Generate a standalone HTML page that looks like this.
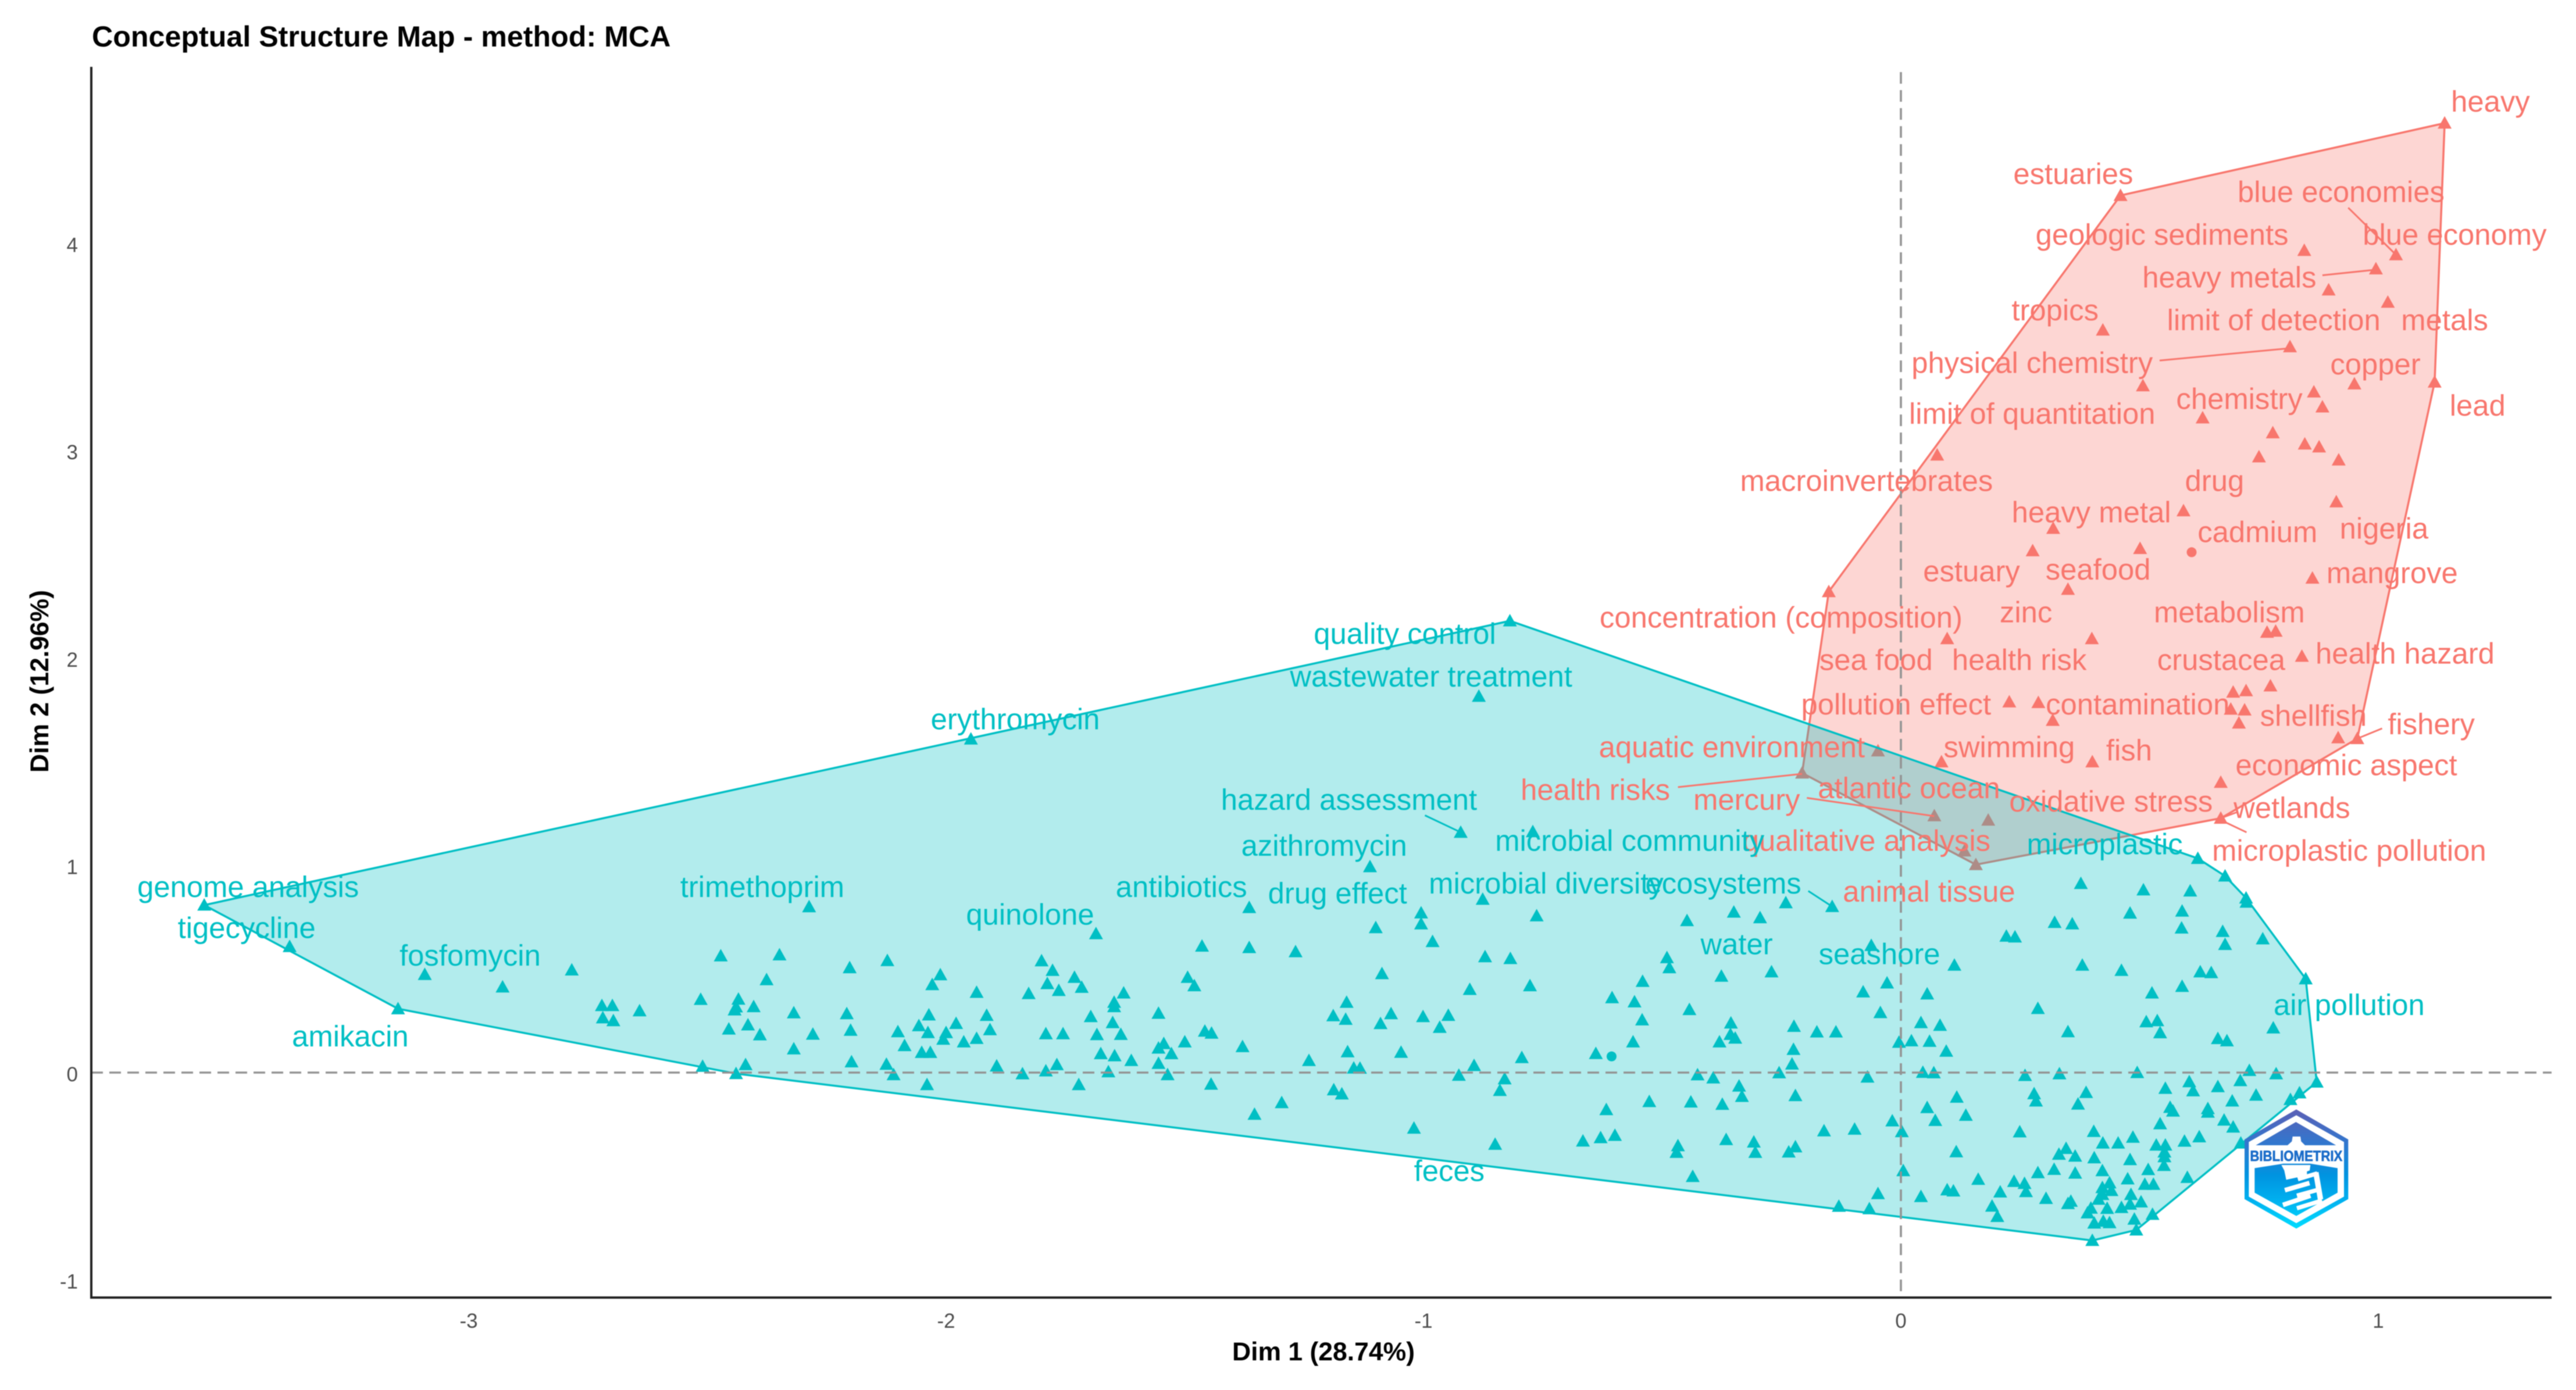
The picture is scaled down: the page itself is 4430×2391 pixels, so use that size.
<!DOCTYPE html>
<html lang="en">
<head>
<meta charset="utf-8">
<title>Conceptual Structure Map - method: MCA</title>
<style>
html,body{margin:0;padding:0;background:#fff;}
svg{display:block;font-family:"Liberation Sans",Arial,sans-serif;filter:blur(0.8px);}
</style>
</head>
<body>
<svg id="chart" xmlns="http://www.w3.org/2000/svg" width="4430" height="2391" viewBox="0 0 4430 2391">
<defs>
<linearGradient id="logoGrad" gradientUnits="userSpaceOnUse" x1="0" y1="25" x2="0" y2="640">
<stop offset="0" stop-color="#5b5fb5"/>
<stop offset="0.3" stop-color="#2f78cf"/>
<stop offset="0.55" stop-color="#0093e0"/>
<stop offset="0.75" stop-color="#00aeee"/>
<stop offset="1" stop-color="#00dcff"/>
</linearGradient>
</defs>
<rect x="0" y="0" width="4430" height="2391" fill="#fff"/>
<g id="polys"></g>
<g id="points"></g>
<g id="refs"></g>
<g id="segs"></g>
<g id="labels"></g>
<g id="axes"></g>
<text x="158" y="80" font-size="50.2" font-weight="700" fill="#000">Conceptual Structure Map - method: MCA</text>
<text x="2276" y="2340" font-size="44.5" font-weight="700" fill="#000" text-anchor="middle">Dim 1 (28.74%)</text>
<text transform="translate(83,1172) rotate(-90)" font-size="44.5" font-weight="700" fill="#000" text-anchor="middle">Dim 2 (12.96%)</text>
<g transform="translate(3860,1900) scale(0.33333)">
<polygon points="267,25 535,180 535,488 267,640 0,488 0,180" fill="url(#logoGrad)"/>
<polygon points="267,55 513,193 513,475 267,612 22,475 22,193" fill="#fff"/>
<polygon points="265,90 472,210 58,210" fill="url(#logoGrad)"/>
<polygon points="52,328 200,305 340,305 480,328 480,455 267,575 52,455" fill="url(#logoGrad)"/>
<polygon points="248,165 288,165 292,190 312,210 312,240 222,240 222,210 244,190" fill="#fff"/>
<polygon points="190,312 340,312 336,340 322,345 322,365 215,388 205,340" fill="#fff"/>
<line x1="275" y1="385" x2="375" y2="355" stroke="#fff" stroke-width="22"/>
<line x1="208" y1="442" x2="335" y2="405" stroke="#fff" stroke-width="24"/>
<line x1="368" y1="350" x2="392" y2="490" stroke="#fff" stroke-width="28"/>
<line x1="270" y1="470" x2="385" y2="438" stroke="#fff" stroke-width="22"/>
<line x1="198" y1="518" x2="340" y2="470" stroke="#fff" stroke-width="24"/>
<line x1="270" y1="535" x2="400" y2="495" stroke="#fff" stroke-width="22"/>
<text x="28" y="291" font-size="74" font-weight="700" fill="#1a6cc9" stroke="#1a6cc9" stroke-width="2" textLength="477" lengthAdjust="spacingAndGlyphs">BIBLIOMETRIX</text>
</g>
</svg>
<script>
const xTicks = [-3, -2, -1, 0, 1];
const yTicks = [-1, 0, 1, 2, 3, 4];

const tealPoints = [
[-3.554,.808],[-3.375,.608],[-3.148,.308],[-3.092,.473],[-2.929,.413],[-2.784,.495],[-2.721,.323],[-2.699,.323],[-2.719,.264],[-2.697,.250],
[-2.642,.298],[-2.472,.563],[-2.349,.568],[-2.376,.448],[-2.514,.353],[-2.435,.354],[-2.440,.317],[-2.443,.302],[-2.403,.318],[-2.319,.288],
[-2.455,.210],[-2.415,.230],[-2.390,.182],[-2.319,.114],[-2.279,.185],[-2.510,.030],[-2.440,-.005],[-2.420,.038],[-2.287,.800],
[-2.202,.506],[-2.123,.540],[-2.012,.472],[-2.029,.424],[-1.936,.387],[-2.208,.284],[-2.200,.204],[-2.198,.052],[-2.125,.040],[-2.110,-.010],
[-2.040,-.058],[-2.101,.197],[-2.087,.130],[-2.036,.278],[-2.057,.226],[-2.038,.193],[-2.051,.097],[-2.033,.097],[-1.979,.237],[-2.000,.193],
[-2.006,.161],[-1.963,.148],[-1.936,.165],[-1.915,.276],[-1.908,.207],[-1.894,.032],[-1.840,-.006],[-1.791,.008],[-1.768,.038],[-1.722,-.058],
[-1.800,.539],[-1.777,.493],[-1.788,.429],[-1.764,.396],[-1.827,.381],[-1.731,.459],[-1.716,.411],[-1.686,.670],[-1.628,.384],[-1.648,.339],
[-1.648,.318],[-1.697,.270],[-1.651,.241],[-1.791,.187],[-1.755,.187],[-1.684,.183],[-1.634,.184],[-1.676,.091],[-1.647,.081],[-1.612,.058],
[-1.660,.004],[-1.555,.286],[-1.555,.118],[-1.544,.140],[-1.528,.091],[-1.500,.148],[-1.555,.044],[-1.536,-.010],[-1.494,.459],[-1.480,.419],
[-1.464,.610],[-1.365,.796],[-1.365,.603],[-1.268,.583],[-1.458,.200],[-1.444,.190],[-1.445,-.056],[-1.379,.125],[-1.354,-.201],[-1.297,-.145],
[-1.240,.058],[-1.188,-.083],[-1.171,-.103],[-1.189,.274],[-1.163,.257],[-1.161,.339],[-1.090,.236],[-1.068,.284],[-1.159,.100],[-1.146,.022],
[-1.133,.021],[-1.047,.098],[-1.001,.270],[-.948,.276],[-.966,.218],[-1.020,-.268],[-.850,-.346],[-.926,-.013],[-.894,.034],[-.830,-.030],
[-.840,-.086],[-.794,.072],[-1.087,.477],[-1.100,.699],[-1.005,.770],[-1.005,.717],[-.981,.632],[-1.112,.993],[-.922,1.159],[-.771,1.162],
[-.876,.836],[-.763,.756],[-.871,.559],[-.818,.550],[-.903,.401],[-.777,.419],
[-1.948,1.609],[-.819,2.179],[-.884,1.815],
[-.448,.733],[-.350,.774],[-.295,.747],[-.241,.819],[-.144,.801],[-.490,.554],[-.485,.506],[-.376,.465],[-.271,.486],[-.541,.440],
[-.605,.361],[-.558,.341],[-.443,.304],[-.542,.254],[-.561,.148],[-.639,.092],[-.356,.239],[-.357,.184],[-.347,.166],[-.380,.148],
[-.224,.223],[-.176,.196],[-.136,.196],[-.225,.112],[-.228,.041],[-.255,-.001],[-.426,-.011],[-.393,-.026],[-.339,-.065],[-.333,-.115],
[-.527,-.140],[-.440,-.142],[-.374,-.153],[-.221,-.111],[-.617,-.179],[-.666,-.330],[-.629,-.314],[-.599,-.303],[-.467,-.353],[-.470,-.385],
[-.366,-.323],[-.308,-.335],[-.305,-.385],[-.221,-.358],[-.235,-.383],[-.436,-.501],[-.161,-.281],[-.097,-.273],[-.062,.613],[-.079,.389],
[-.029,.432],[-.043,.289],[.055,.379],[.112,.518],[-.070,-.022],[-.018,-.233],[.002,-.285],[.005,-.473],[.055,-.169],[.072,-.231],
[.136,-.206],[.117,-.119],[.116,-.382],[.042,.241],[.082,.228],[-.004,.146],[.022,.153],[.060,.151],[.095,.103],[.046,.001],
[.069,-.001],[-.130,-.645],[-.066,-.657],[-.048,-.584],[.042,-.598],[.097,-.566],[.110,-.571],
[.287,.309],[.350,.197],[.514,.245],[.537,.250],[.543,.192],[.664,.164],[.683,.153],[.780,.215],[.260,-.014],[.332,-.006],
[.495,.000],[.730,.010],[.786,-.006],[.711,-.039],[.604,-.044],[.664,-.068],[.554,-.076],[.612,-.088],[.871,-.046],[.835,-.098],
[.816,-.130],[.744,-.109],[.694,-.137],[.279,-.102],[.283,-.137],[.388,-.096],[.371,-.152],[.564,-.168],[.570,-.186],[.643,-.174],
[.643,-.191],[.677,-.229],[.696,-.263],[.543,-.247],[.249,-.286],[.404,-.284],[.423,-.340],[.455,-.340],[.486,-.312],[.535,-.350],
[.554,-.350],[.594,-.331],[.625,-.310],[.712,-.340],[.346,-.366],[.331,-.394],[.365,-.403],[.405,-.411],[.480,-.420],[.552,-.383],
[.552,-.406],[.551,-.448],[.518,-.468],[.321,-.467],[.287,-.483],[.365,-.485],[.422,-.473],[.162,-.515],[.475,-.513],[.600,-.506],
[.237,-.525],[.259,-.535],[.262,-.574],[.208,-.576],[.304,-.607],[.437,-.532],[.422,-.555],[.441,-.569],[.482,-.588],[.511,-.539],
[.529,-.539],[.422,-.588],[.414,-.611],[.356,-.621],[.350,-.632],[.503,-.624],[.480,-.635],[.462,-.651],[.432,-.655],[.398,-.654],
[.391,-.677],[.527,-.684],[.489,-.707],[.191,-.644],[.202,-.694],[.405,-.726],[.424,-.717],[.437,-.724],[.493,-.759],[.401,-.810],
[.377,.912],[.508,.881],[.606,.876],[.589,.779],[.480,.769],[.322,.724],[.359,.717],[.221,.658],[.239,.654],[.588,.697],
[.674,.681],[.679,.618],[.758,.645],[.380,.518],[.462,.493],[.627,.486],[.650,.482],[.589,.416],[.526,.384],
[.622,1.033],[.679,.948],[.723,.842],[.724,.822],[.848,.452]
];
const tealCentroid = [[-.606,.078]];

const redPoints = [
[1.139,4.580],[.460,4.231],[.845,3.966],[1.037,3.945],[.995,3.877],[.896,3.775],[1.020,3.716],[.423,3.582],[.815,3.501],[.507,3.313],
[1.118,3.331],[.950,3.322],[.865,3.283],[.883,3.211],[.632,3.158],[.779,3.086],[.846,3.032],[.876,3.018],[.750,2.970],[.917,2.955],
[.076,2.979],[.912,2.753],[.592,2.710],[.319,2.625],[.276,2.517],[.501,2.528],[.862,2.385],[.350,2.331],[-.151,2.320],[.767,2.124],
[.785,2.129],[.400,2.093],[.097,2.093],[.840,2.008],[.774,1.865],[.696,1.835],[.723,1.842],[.227,1.788],[.288,1.785],[.318,1.699],
[.691,1.753],[.720,1.749],[.708,1.686],[.916,1.615],[.956,1.611],[.085,1.499],[.401,1.499],[-.048,1.552],[.670,1.400],[.670,1.227],
[-.207,1.445],[.070,1.239],[.183,1.218],[.133,1.069],[.157,1.003]
];
const redCentroid = [[.609,2.510]];

const redLabels = [
["heavy",1.235,4.683],["estuaries",.361,4.334],["blue economies",.922,4.247],["geologic sediments",.547,4.041],["blue economy",1.160,4.041],
["heavy metals",.688,3.835],["limit of detection",.781,3.629],["metals",1.139,3.629],["tropics",.323,3.677],["physical chemistry",.275,3.423],
["copper",.994,3.415],["chemistry",.709,3.249],["lead",1.208,3.217],["limit of quantitation",.275,3.177],["macroinvertebrates",-.072,2.853],
["drug",.657,2.853],["heavy metal",.399,2.702],["cadmium",.747,2.607],["nigeria",1.012,2.623],["estuary",.148,2.417],
["seafood",.413,2.425],["mangrove",1.029,2.409],["concentration (composition)",-.251,2.195],["zinc",.262,2.219],["metabolism",.688,2.219],
["sea food",-.052,1.989],["health risk",.248,1.989],["crustacea",.671,1.989],["health hazard",1.056,2.021],["pollution effect",-.010,1.775],
["contamination",.496,1.775],["shellfish",.864,1.720],["fishery",1.111,1.680],["aquatic environment",-.354,1.569],["swimming",.227,1.569],
["fish",.478,1.553],["economic aspect",.933,1.482],["health risks",-.640,1.363],["mercury",-.323,1.315],["atlantic ocean",.017,1.371],
["oxidative stress",.440,1.307],["wetlands",.819,1.276],["qualitative analysis",-.072,1.117],["microplastic pollution",.939,1.070],["animal tissue",.059,.872]
];
const tealLabels = [
["quality control",-1.039,2.116],["wastewater treatment",-.984,1.910],["erythromycin",-1.855,1.704],["hazard assessment",-1.156,1.315],
["azithromycin",-1.208,1.094],["microbial community",-.568,1.117],["microplastic",.427,1.101],["genome analysis",-3.462,.895],
["trimethoprim",-2.385,.895],["antibiotics",-1.507,.895],["drug effect",-1.180,.864],["microbial diversity",-.743,.911],
["ecosystems",-.372,.911],["quinolone",-1.824,.761],["tigecycline",-3.465,.697],["fosfomycin",-2.997,.563],["water",-.344,.618],
["seashore",-.045,.571],["air pollution",.939,.325],["amikacin",-3.248,.174],["feces",-.946,-.475]
];
const redLeaders = [
[.937,4.172,1.033,3.954],[.883,3.846,.995,3.873],[.542,3.435,.815,3.494],[-.467,1.377,-.207,1.441],
[-.197,1.325,.070,1.237],[1.008,1.660,.956,1.611],[.724,1.159,.670,1.218],[.705,1.257,.670,1.227]
];
const tealLeaders = [
[-.194,.876,-.144,.801],[-.997,1.241,-.922,1.159]
];

const TEAL = '#00BFC4';
const RED = '#F8766D';
const NS = 'http://www.w3.org/2000/svg';
const sx = v => 3269 + v * 821;
const sy = v => 1845 - v * 356.6;
const plotLeft = 157, plotRight = 4388, plotTop = 118, plotBottom = 2232;

function hull(pts){
  const p = pts.slice().sort((a,b)=>a[0]-b[0]||a[1]-b[1]);
  const cross = (o,a,b)=>(a[0]-o[0])*(b[1]-o[1])-(a[1]-o[1])*(b[0]-o[0]);
  const lo = [];
  for(const q of p){ while(lo.length>1 && cross(lo[lo.length-2],lo[lo.length-1],q)<=0) lo.pop(); lo.push(q); }
  const up = [];
  for(const q of p.slice().reverse()){ while(up.length>1 && cross(up[up.length-2],up[up.length-1],q)<=0) up.pop(); up.push(q); }
  return lo.slice(0,-1).concat(up.slice(0,-1));
}
const polys = document.getElementById('polys');
const refs = document.getElementById('refs');
const segs = document.getElementById('segs');
const labelsG = document.getElementById('labels');
const axes = document.getElementById('axes');

function drawCluster(pts, centroid, color, parentP){
  const poly = document.createElementNS(NS,'polygon');
  
  
  poly.setAttribute('points', hull(pts.concat(centroid)).map(p=>sx(p[0]).toFixed(1)+','+sy(p[1]).toFixed(1)).join(' '));
  poly.setAttribute('fill', color);
  poly.setAttribute('fill-opacity', '0.3');
  poly.setAttribute('stroke', color);
  poly.setAttribute('stroke-width', '3.5');
  parentP.appendChild(poly);
  for(const p of pts){
    const x = sx(p[0]), y = sy(p[1]);
    const t = document.createElementNS(NS,'path');
    
    
    t.setAttribute('d', 'M'+x.toFixed(1)+' '+(y-12).toFixed(1)+'L'+(x+12).toFixed(1)+' '+(y+9.5).toFixed(1)+'L'+(x-12).toFixed(1)+' '+(y+9.5).toFixed(1)+'Z');
    t.setAttribute('fill', color);
    parentP.appendChild(t);
  }
  for(const p of centroid){
    const c = document.createElementNS(NS,'circle');
    
    
    c.setAttribute('cx', sx(p[0]));
    c.setAttribute('cy', sy(p[1]));
    c.setAttribute('r', '8.5');
    c.setAttribute('fill', color);
    parentP.appendChild(c);
  }
}
drawCluster(redPoints, redCentroid, RED, polys);
drawCluster(tealPoints, tealCentroid, TEAL, polys);

const hz = document.createElementNS(NS,'line');


hz.setAttribute('x1', plotLeft);
hz.setAttribute('x2', plotRight);
hz.setAttribute('y1', sy(0));
hz.setAttribute('y2', sy(0));
hz.setAttribute('stroke', '#939393');
hz.setAttribute('stroke-width', '3.6');
hz.setAttribute('stroke-dasharray', '20 11');
refs.appendChild(hz);
const vt = document.createElementNS(NS,'line');


vt.setAttribute('x1', sx(0));
vt.setAttribute('x2', sx(0));
vt.setAttribute('y1', plotTop + 6);
vt.setAttribute('y2', plotBottom);
vt.setAttribute('stroke', '#939393');
vt.setAttribute('stroke-width', '3.6');
vt.setAttribute('stroke-dasharray', '20 11');
refs.appendChild(vt);

function drawLeaders(list, color){
  for(const s of list){
    const l = document.createElementNS(NS,'line');
    
    
    l.setAttribute('x1', sx(s[0]));
    l.setAttribute('y1', sy(s[1]));
    l.setAttribute('x2', sx(s[2]));
    l.setAttribute('y2', sy(s[3]));
    l.setAttribute('stroke', color);
    l.setAttribute('stroke-width', '3');
    segs.appendChild(l);
  }
}
drawLeaders(redLeaders, RED);
drawLeaders(tealLeaders, TEAL);

function drawLabels(list, color){
  for(const d of list){
    const t = document.createElementNS(NS,'text');
    
    
    t.setAttribute('x', sx(d[1]));
    t.setAttribute('y', sy(d[2]) + 17);
    t.setAttribute('font-size', '50.8');
    t.setAttribute('text-anchor', 'middle');
    t.setAttribute('fill', color);
    t.textContent = d[0];
    labelsG.appendChild(t);
  }
}
drawLabels(redLabels, RED);
drawLabels(tealLabels, TEAL);

const yAxis = document.createElementNS(NS,'line');


yAxis.setAttribute('x1', plotLeft);
yAxis.setAttribute('x2', plotLeft);
yAxis.setAttribute('y1', plotTop - 3);
yAxis.setAttribute('y2', plotBottom + 2);
yAxis.setAttribute('stroke', '#222');
yAxis.setAttribute('stroke-width', '4');
axes.appendChild(yAxis);
const xAxis = document.createElementNS(NS,'line');


xAxis.setAttribute('x1', plotLeft - 2);
xAxis.setAttribute('x2', plotRight);
xAxis.setAttribute('y1', plotBottom);
xAxis.setAttribute('y2', plotBottom);
xAxis.setAttribute('stroke', '#222');
xAxis.setAttribute('stroke-width', '4');
axes.appendChild(xAxis);
for(const v of xTicks){
  const t = document.createElementNS(NS,'text');
  
  
  t.setAttribute('x', sx(v));
  t.setAttribute('y', 2284);
  t.setAttribute('font-size', '35');
  t.setAttribute('text-anchor', 'middle');
  t.setAttribute('fill', '#4d4d4d');
  t.textContent = String(v);
  axes.appendChild(t);
}
for(const v of yTicks){
  const t = document.createElementNS(NS,'text');
  
  
  t.setAttribute('x', 134);
  t.setAttribute('y', sy(v) + 15);
  t.setAttribute('font-size', '35');
  t.setAttribute('text-anchor', 'end');
  t.setAttribute('fill', '#4d4d4d');
  t.textContent = String(v);
  axes.appendChild(t);
}
</script>
</body>
</html>
